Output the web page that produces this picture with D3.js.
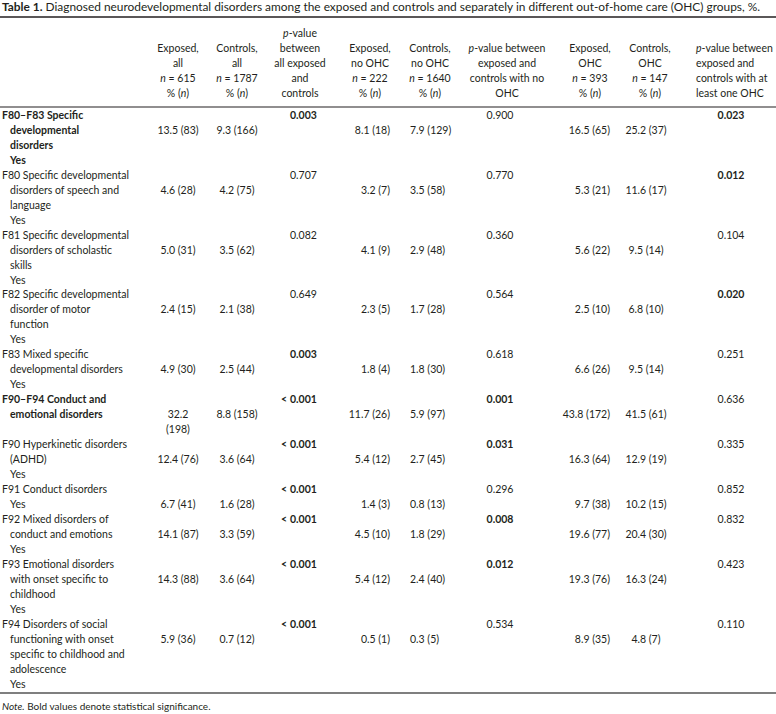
<!DOCTYPE html>
<html><head><meta charset="utf-8">
<script src="https://cdn.jsdelivr.net/npm/d3@7"></script>
<style>
html,body{margin:0;padding:0;background:#fff;}
svg{display:block;font-family:Lato,"Gill Sans","Noto Sans",sans-serif;}
</style></head><body>
<svg id="chart" width="776" height="714"></svg>
<script>
// ---------------- DATA ----------------
const titleLabel = "Table 1.";
const titleText = "Diagnosed neurodevelopmental disorders among the exposed and controls and separately in different out-of-home care (OHC) groups, %.";
const noteLabel = "Note.";
const noteText = "Bold values denote statistical significance.";

const columnKeys = ["exposedAll","controlsAll","pAll","exposedNo","controlsNo","pNo","exposedOHC","controlsOHC","pOHC"];
const columnHeaders = [
  ["Exposed,","all","*n* = 615","% (*n*)"],
  ["Controls,","all","*n* = 1787","% (*n*)"],
  ["*p*-value","between","all exposed","and","controls"],
  ["Exposed,","no OHC","*n* = 222","% (*n*)"],
  ["Controls,","no OHC","*n* = 1640","% (*n*)"],
  ["*p*-value between","exposed and","controls with no","OHC"],
  ["Exposed,","OHC","*n* = 393","% (*n*)"],
  ["Controls,","OHC","*n* = 147","% (*n*)"],
  ["*p*-value between","exposed and","controls with at","least one OHC"]
];

const categoryLines = [
  ["F80–F83 Specific","developmental","disorders","Yes"],
  ["F80 Specific developmental","disorders of speech and","language","Yes"],
  ["F81 Specific developmental","disorders of scholastic","skills","Yes"],
  ["F82 Specific developmental","disorder of motor","function","Yes"],
  ["F83 Mixed specific","developmental disorders","Yes"],
  ["F90–F94 Conduct and","emotional disorders"],
  ["F90 Hyperkinetic disorders","(ADHD)","Yes"],
  ["F91 Conduct disorders","Yes"],
  ["F92 Mixed disorders of","conduct and emotions","Yes"],
  ["F93 Emotional disorders","with onset specific to","childhood","Yes"],
  ["F94 Disorders of social","functioning with onset","specific to childhood and","adolescence","Yes"]
];
const categoryBold = [true,false,false,false,false,true,false,false,false,false,false];

const exposedAllPct  = [13.5,4.6,5.0,2.4,4.9,32.2,12.4,6.7,14.1,14.3,5.9];
const exposedAllN    = [83,28,31,15,30,198,76,41,87,88,36];
const controlsAllPct = [9.3,4.2,3.5,2.1,2.5,8.8,3.6,1.6,3.3,3.6,0.7];
const controlsAllN   = [166,75,62,38,44,158,64,28,59,64,12];
const pAll           = ["0.003","0.707","0.082","0.649","0.003","< 0.001","< 0.001","< 0.001","< 0.001","< 0.001","< 0.001"];
const exposedNoPct   = [8.1,3.2,4.1,2.3,1.8,11.7,5.4,1.4,4.5,5.4,0.5];
const exposedNoN     = [18,7,9,5,4,26,12,3,10,12,1];
const controlsNoPct  = [7.9,3.5,2.9,1.7,1.8,5.9,2.7,0.8,1.8,2.4,0.3];
const controlsNoN    = [129,58,48,28,30,97,45,13,29,40,5];
const pNo            = ["0.900","0.770","0.360","0.564","0.618","0.001","0.031","0.296","0.008","0.012","0.534"];
const exposedOHCPct  = [16.5,5.3,5.6,2.5,6.6,43.8,16.3,9.7,19.6,19.3,8.9];
const exposedOHCN    = [65,21,22,10,26,172,64,38,77,76,35];
const controlsOHCPct = [25.2,11.6,9.5,6.8,9.5,41.5,12.9,10.2,20.4,16.3,4.8];
const controlsOHCN   = [37,17,14,10,14,61,19,15,30,24,7];
const pOHC           = ["0.023","0.012","0.104","0.020","0.251","0.636","0.335","0.852","0.832","0.423","0.110"];

// ---------------- LAYOUT ----------------
const svg = d3.select("#chart");
const W = 776;
const ink = "#231f20";
const FS = 10.5;

const fmtPct = d3.format(".1f");
const pctCell = (p, n) => `${fmtPct(p)} (${n})`;
const pNum = s => s.startsWith("<") ? +s.replace("<","").trim() - 1e-9 : +s;
const isSig = s => pNum(s) < 0.05;

const columnValues = {
  exposedAll: exposedAllPct.map((v,i)=>pctCell(v,exposedAllN[i])),
  controlsAll: controlsAllPct.map((v,i)=>pctCell(v,controlsAllN[i])),
  pAll: pAll,
  exposedNo: exposedNoPct.map((v,i)=>pctCell(v,exposedNoN[i])),
  controlsNo: controlsNoPct.map((v,i)=>pctCell(v,controlsNoN[i])),
  pNo: pNo,
  exposedOHC: exposedOHCPct.map((v,i)=>pctCell(v,exposedOHCN[i])),
  controlsOHC: controlsOHCPct.map((v,i)=>pctCell(v,controlsOHCN[i])),
  pOHC: pOHC
};
const isP = k => k.startsWith("p");

// column anchor positions and alignment
const xCol = d3.scaleOrdinal().domain(columnKeys)
  .range([178, 237, 290, 390, 410, 500, 610, 646, 731]);
const valueAlign = d3.scaleOrdinal().domain(columnKeys)
  .range(["middle","middle","decimal","end","start","middle","end","middle","middle"]);
const headerX = d3.scaleOrdinal().domain(columnKeys)
  .range([178, 237, 300, 370, 430, 507, 590, 650, 696]);
const headerAlign = d3.scaleOrdinal().domain(columnKeys)
  .range(["middle","middle","middle","middle","middle","middle","middle","middle","start"]);
const maxCellWidth = d3.scaleOrdinal().domain(columnKeys)
  .range([44.5, 999, 999, 999, 999, 999, 999, 999, 999]);

// helper: text with *italic* segments
function richText(sel, str) {
  str.split("*").forEach((part, i) => {
    if (!part) return;
    sel.append("tspan").attr("font-style", i % 2 ? "italic" : null).text(part);
  });
}

// Title
const t = svg.append("text").attr("x", 2).attr("y", 11).attr("font-size", 11.9).attr("fill", ink);
t.append("tspan").attr("font-weight", "bold").text(titleLabel);
t.append("tspan").text(" " + titleText);

// Rules
const rules = [
  {y: 17, w: 1.6, c: "#231f20"},
  {y: 107, w: 1.1, c: "#231f20"},
  {y: 693, w: 1.4, c: "#555"}
];
svg.selectAll("line.rule").data(rules).join("line").attr("class","rule")
  .attr("x1", 0).attr("x2", W).attr("y1", d=>d.y).attr("y2", d=>d.y)
  .attr("stroke", d=>d.c).attr("stroke-width", d=>d.w);

// Header
const yHead = d3.scaleLinear().domain([0, 4]).range([33, 93]);
const baseOff = 3.8;
columnKeys.forEach((k, ci) => {
  const lines = columnHeaders[ci];
  const offset = 5 - lines.length;
  lines.forEach((ln, li) => {
    const tx = svg.append("text")
      .attr("x", headerX(k)).attr("y", yHead(li + offset) + baseOff)
      .attr("text-anchor", headerAlign(k))
      .attr("font-size", FS).attr("fill", ink);
    richText(tx, ln);
  });
});

// Body: compute line counts per row
const measure = svg.append("text").attr("font-size", FS).attr("visibility","hidden");
function textW(s, bold) {
  measure.attr("font-weight", bold ? "bold" : null).text(s);
  return measure.node().getComputedTextLength();
}
const cellLines = columnKeys.map(k => columnValues[k].map(v => {
  if (!isP(k) && textW(v, false) > maxCellWidth(k)) return v.split(" ");
  return [v];
}));
const rowLines = categoryLines.map((lab, ri) => {
  const maxVal = d3.max(cellLines, c => c[ri].length);
  return Math.max(lab.length, 1 + maxVal);
});
const rowStart = [];
rowLines.reduce((acc, n, i) => { rowStart[i] = acc; return acc + n; }, 0);
const totalLines = d3.sum(rowLines);
const yLine = d3.scaleLinear().domain([0, totalLines - 1]).range([115, 684]);

const body = svg.append("g").attr("font-size", FS).attr("fill", ink);

// labels
categoryLines.forEach((lines, ri) => {
  lines.forEach((ln, li) => {
    body.append("text")
      .attr("x", li === 0 ? 2 : 10)
      .attr("y", yLine(rowStart[ri] + li) + baseOff)
      .attr("font-weight", categoryBold[ri] ? "bold" : null)
      .text(ln);
  });
});

// values
columnKeys.forEach((k, ci) => {
  columnValues[k].forEach((v, ri) => {
    const lineIdx = rowStart[ri] + (isP(k) ? 0 : 1);
    const bold = isP(k) && isSig(v);
    const al = valueAlign(k);
    if (al === "decimal") {
      const num = v.replace("<", "").trim();
      if (v.startsWith("<")) {
        body.append("text").attr("x", xCol(k) - 3).attr("y", yLine(lineIdx) + baseOff)
          .attr("text-anchor", "end").attr("font-weight", bold ? "bold" : null).text("<");
      }
      body.append("text").attr("x", xCol(k)).attr("y", yLine(lineIdx) + baseOff)
        .attr("text-anchor", "start").attr("font-weight", bold ? "bold" : null).text(num);
    } else {
      cellLines[ci][ri].forEach((part, pi) => {
        body.append("text").attr("x", xCol(k)).attr("y", yLine(lineIdx + pi) + baseOff)
          .attr("text-anchor", al).attr("font-weight", bold ? "bold" : null).text(part);
      });
    }
  });
});
measure.remove();

// Note
const n = svg.append("text").attr("x", 2).attr("y", 710).attr("font-size", 10).attr("fill", ink);
n.append("tspan").attr("font-style", "italic").text(noteLabel);
n.append("tspan").text(" " + noteText);
</script>
</body></html>
